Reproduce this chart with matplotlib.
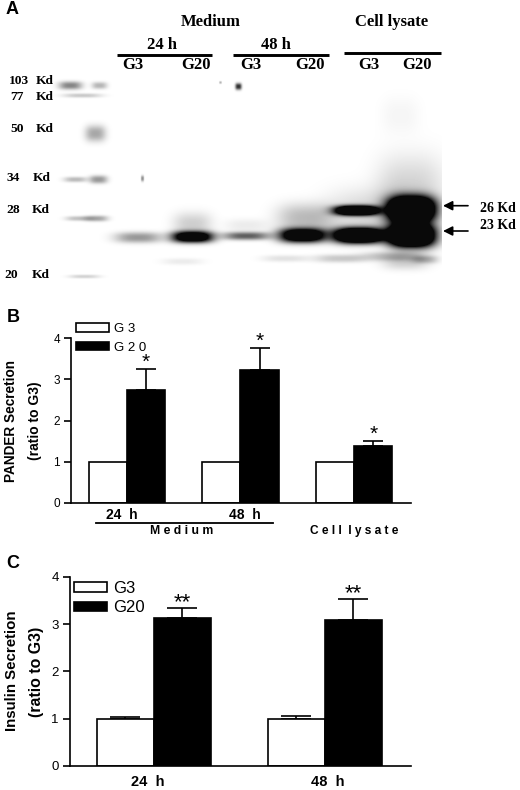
"""Western blot panel plus two bar panels (PANDER and insulin secretion)."""
import matplotlib

matplotlib.use("Agg")

import matplotlib.pyplot as plt
import numpy as np
from matplotlib.patches import Patch

W, H = 520, 790

# panel B
b_groups = ["24 h", "48 h", "Cell lysate"]
b_g3 = [1.0, 1.0, 1.0]
b_g20 = [2.74, 3.22, 1.39]
b_g20_err = [0.51, 0.54, 0.10]

# panel C
c_groups = ["24 h", "48 h"]
c_g3 = [1.0, 1.0]
c_g3_err = [0.03, 0.05]
c_g20 = [3.12, 3.09]
c_g20_err = [0.21, 0.43]

y_ticks = [0, 1, 2, 3, 4]

# gel bands: x, y, sigma x, sigma y, darkness (picture pixels)
gel_bands = [
    # marker lane
    (70, 85, 9, 3, 0.5), (99, 85, 6, 2.6, 0.3), (82, 95, 15, 1.6, 0.22),
    (95, 133, 8, 6, 0.36), (75, 179, 9, 2, 0.28), (98, 179, 7, 3, 0.42),
    (78, 218, 10, 1.8, 0.25), (96, 218, 9, 2.2, 0.36), (84, 276, 12, 1.4, 0.18),
    # spots
    (238, 86, 2.5, 2.5, 0.85), (142, 178, 1.2, 2.2, 0.45), (220, 82, 1, 1, 0.3),
    # medium 24 h
    (138, 237, 18, 4, 0.42), (192, 236.5, 16, 4.2, 1.5), (192, 224, 15, 9, 0.2),
    (182, 261, 16, 2.5, 0.08),
    # medium 48 h
    (246, 235.5, 18, 3, 0.65), (246, 225, 17, 5, 0.08),
    (302, 235, 18, 5.2, 1.6), (305, 218, 22, 11, 0.28), (285, 258, 18, 2.5, 0.12),
    # lysate G3
    (356, 210, 17, 3.6, 2.0), (358, 235, 19, 5.6, 2.2), (370, 213, 34, 18, 0.16),
    (340, 258, 20, 3, 0.22),
    # lysate G20
    (411, 209, 18, 9.5, 2.5), (411, 235, 18, 8.5, 2.5), (410, 190, 26, 26, 0.18),
    (400, 115, 15, 14, 0.04), (392, 256, 24, 3.5, 0.25), (405, 261, 18, 6, 0.2),
    (425, 259, 10, 3, 0.25),
]

mass_labels = ["103", "77", "50", "34", "28", "20"]
mass_num_x = [18.5, 17, 17, 13, 13, 11]
mass_kd_x = [45, 45, 45, 42, 41, 41]
mass_y = [80.7, 96.7, 128.7, 177.7, 209.7, 275]

serif = "Liberation Serif"
sans = "Liberation Sans"


def px_axes(fig, left, right, top, bottom):
    return fig.add_axes([left / W, 1 - bottom / H, (right - left) / W, (bottom - top) / H])


def bar_panel(ax, g3, g20, g20_err, width, cap, g3_err=None):
    x = np.arange(len(g3))
    ax.bar(x - width / 2, g3, width, color="white", edgecolor="black", lw=1.2, zorder=2)
    ax.bar(x + width / 2, g20, width, color="black", edgecolor="black", lw=1.2, zorder=2)
    ax.errorbar(x + width / 2, g20, yerr=[np.zeros(len(g20)), g20_err], fmt="none",
                ecolor="black", elinewidth=1.2, capsize=cap, capthick=1.2, zorder=1)
    if g3_err is not None:
        ax.errorbar(x - width / 2, g3, yerr=[np.zeros(len(g3)), g3_err], fmt="none",
                    ecolor="black", elinewidth=1.2, capsize=cap, capthick=1.2, zorder=1)
    ax.set_ylim(0, 4)
    ax.set_yticks(y_ticks)
    ax.set_xticks([])
    ax.spines[["top", "right"]].set_visible(False)
    ax.spines[["left", "bottom"]].set_linewidth(1.2)
    ax.tick_params(axis="y", length=5, width=1.2, labelsize=8.5, pad=3)
    ax.patch.set_alpha(0)


def legend(ax, anchor, fontsize, handlelength, handleheight, labelspacing):
    ax.legend(handles=[Patch(fc="white", ec="black", lw=1.2, label=anchor[2]),
                       Patch(fc="black", ec="black", lw=1.2, label=anchor[3])],
              loc="upper left", bbox_to_anchor=(anchor[0] / W, 1 - anchor[1] / H),
              bbox_transform=ax.figure.transFigure, frameon=False, fontsize=fontsize,
              handlelength=handlelength, handleheight=handleheight,
              labelspacing=labelspacing, borderpad=0, borderaxespad=0, handletextpad=0.4)


def stars(ax, xs, tops, s, size, drop):
    for xx, top in zip(xs, tops):
        ax.annotate(s, (xx, top), xytext=(0, drop), textcoords="offset points",
                    fontsize=size, ha="center", va="baseline", family=sans)


fig = plt.figure(figsize=(W / 100, H / 100), dpi=100)
plt.rcParams["font.family"] = sans

# full-figure layer in picture pixels for the gel and the free labels
bg = fig.add_axes([0, 0, 1, 1])
bg.axis("off")

X, Y = np.meshgrid(np.arange(50, 442), np.arange(70, 300))
gel = np.zeros(X.shape)
for bx, by, sx, sy, dark in gel_bands:
    # flat-topped in both directions, the real bands saturate with sharp edges
    gel += dark * np.exp(-0.5 * (np.abs((X - bx) / sx) ** 2.8 + np.abs((Y - by) / sy) ** 2.4))
bg.imshow(np.clip(gel, 0, 1) * 0.96, cmap="gray_r", vmin=0, vmax=1, aspect="auto",
          extent=(50, 442, 300, 70), interpolation="bilinear")
bg.set_xlim(0, W)
bg.set_ylim(H, 0)


def label(x, y, s, size=12, family=serif, weight="bold", ha="center", **kw):
    bg.text(x, y, s, fontsize=size, family=family, weight=weight, ha=ha, va="center", **kw)


label(12, 10, "A", size=13, family=sans)
label(211, 22, "Medium")
label(392, 22, "Cell lysate")
label(162, 45, "24 h")
label(276, 45, "48 h")
for x0, x1, yy in [(117, 212, 55), (233, 329, 55), (344, 441, 52.5)]:
    bg.plot([x0, x1], [yy, yy], color="black", lw=2.1, solid_capstyle="butt")
for xx, name in zip([133, 196, 251, 310, 369, 417], ["G3", "G20"] * 3):
    label(xx, 65, name)

for name, nx, kx, my in zip(mass_labels, mass_num_x, mass_kd_x, mass_y):
    label(nx, my, name, size=9.7)
    label(kx, my, "Kd", size=9.7)

for ya, ytxt, name in [(205.7, 209, "26 Kd"), (231, 225.7, "23 Kd")]:
    bg.annotate("", xy=(443, ya), xytext=(468, ya),
                arrowprops=dict(arrowstyle="-|>", color="black", lw=1.2, mutation_scale=14,
                                shrinkA=0, shrinkB=0))
    label(498, ytxt, name, size=10)

# panel B
label(13, 317, "B", size=13, family=sans)
ax_b = px_axes(fig, 71, 411, 338.3, 502.7)
bar_panel(ax_b, b_g3, b_g20, b_g20_err, 0.336, 7.2)
ax_b.set_xlim(-0.49, 2.5)
stars(ax_b, np.arange(3) + 0.168, np.add(b_g20, b_g20_err), "*", 15, 1)
legend(ax_b, (76, 323, "G 3", "G 2 0"), 9.5, 2.5, 0.62, 0.5)
label(11, 421, "PANDER Secretion", size=9.8, family=sans, rotation=90)
label(35, 421, "(ratio to G3)", size=10, family=sans, rotation=90)
label(122, 515, b_groups[0].replace(" ", "  "), size=10, family=sans)
label(245, 515, b_groups[1].replace(" ", "  "), size=10, family=sans)
bg.plot([96, 273], [523, 523], color="black", lw=1.3)
label(182, 531, "M e d i u m", size=8.8, family=sans)
label(354, 531, "C e l l  l y s a t e", size=8.6, family=sans)

# panel C
label(13, 563, "C", size=13, family=sans)
ax_c = px_axes(fig, 70, 411, 576.7, 766)
bar_panel(ax_c, c_g3, c_g20, c_g20_err, 0.334, 10.6, g3_err=c_g3_err)
ax_c.set_xlim(-0.492, 1.506)
stars(ax_c, np.arange(2) + 0.167, np.add(c_g20, c_g20_err), "**", 16, 0.5)
ax_c.tick_params(axis="y", labelsize=9.5)
legend(ax_c, (74, 581, "G3", "G20"), 12, 1.95, 0.5, 0.27)
label(12, 671, "Insulin Secretion", size=10.8, family=sans, rotation=90)
label(37, 672, "(ratio to G3)", size=11.4, family=sans, rotation=90)
label(148, 782, c_groups[0].replace(" ", "  "), size=10.5, family=sans)
label(328, 782, c_groups[1].replace(" ", "  "), size=10.5, family=sans)

fig.savefig("out.png", dpi=100)
plt.close(fig)
